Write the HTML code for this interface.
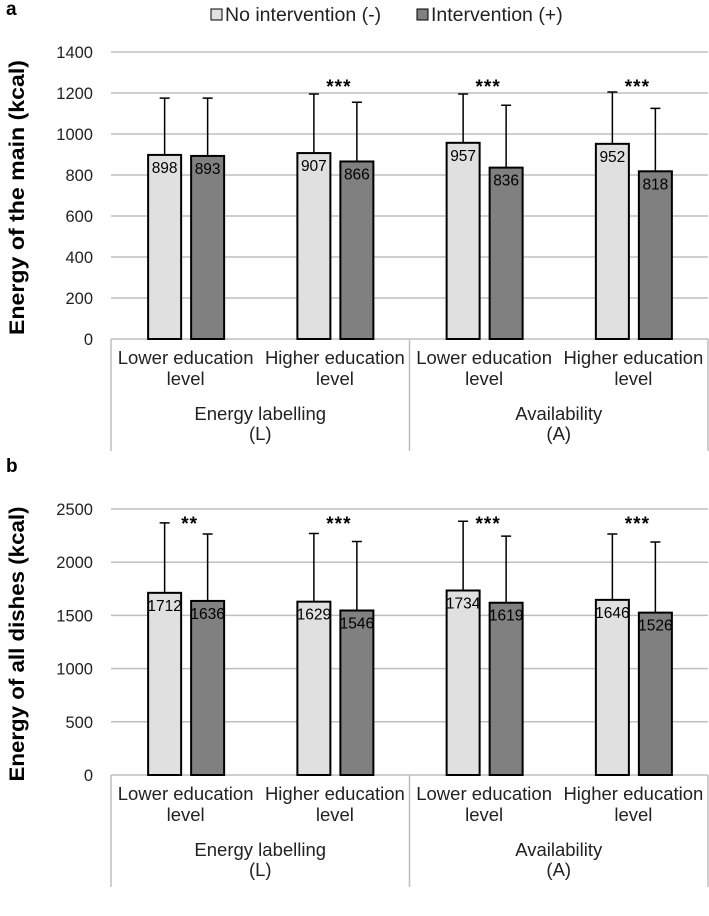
<!DOCTYPE html>
<html><head><meta charset="utf-8"><style>
body{margin:0;background:#fff}
svg{display:block;font-family:"Liberation Sans",Arial,sans-serif}
</style></head><body>
<svg id="c" width="709" height="916" viewBox="0 0 709 916" xmlns="http://www.w3.org/2000/svg"></svg>
<script>
const subCats = ["Lower education", "Higher education", "Lower education", "Higher education"];
const groups = ["Energy labelling", "Availability"];
const groupCodes = ["(L)", "(A)"];
const aNo = [898, 907, 957, 952];
const aInt = [893, 866, 836, 818];
const aNoErr = [1175, 1195, 1195, 1205];
const aIntErr = [1175, 1155, 1140, 1125];
const aStars = ["", "***", "***", "***"];
const aTicks = [0, 200, 400, 600, 800, 1000, 1200, 1400];
const bNo = [1712, 1629, 1734, 1646];
const bInt = [1636, 1546, 1619, 1526];
const bNoErr = [2370, 2270, 2385, 2265];
const bIntErr = [2265, 2195, 2245, 2190];
const bStars = ["**", "***", "***", "***"];
const bTicks = [0, 500, 1000, 1500, 2000, 2500];

const svg = document.getElementById('c');
const NS = "http://www.w3.org/2000/svg";
function mk(tag, attrs, parent, txt) {
  const e = document.createElementNS(NS, tag);
  for (const k in attrs) e.setAttribute(k, attrs[k]);
  if (txt !== undefined) e.textContent = txt;
  (parent || svg).appendChild(e);
  return e;
}
const X0 = 111, X1 = 708, CW = (X1 - X0) / 4;
function xc(i) { return X0 + CW * (i + 0.5); }

function panel(p, letter, title, ticks, top, bottom, no, inn, noE, inE, stars, starY) {
  const g = mk('g', {});
  
  
  const max = ticks[ticks.length - 1];
  const y = v => bottom - (v / max) * (bottom - top);
  let t = mk('text', {x: 6, y: top - 37, 'font-size': 19, 'font-weight': 'bold'}, g, letter);
  
  
  ticks.forEach(v => {
    if (v > 0) {
      const l = mk('line', {x1: X0, x2: X1, y1: y(v), y2: y(v), stroke: '#bfbfbf', 'stroke-width': 1.5}, g);
      
      
    }
    const tt = mk('text', {x: 93, y: y(v) + 6, 'font-size': 16.5, 'text-anchor': 'end', fill: '#222'}, g, v);
    
    
  });
  const yt = mk('text', {transform: `translate(24,${(top + bottom) / 2 + 2}) rotate(-90)`, 'font-size': 21, 'font-weight': 'bold', 'text-anchor': 'middle', textLength: 275, lengthAdjust: 'spacingAndGlyphs'}, g, title);
  
  
  const boxB = bottom + 112;
  const ax = mk('line', {x1: X0, x2: X1, y1: bottom, y2: bottom, stroke: '#bfbfbf', 'stroke-width': 1.5}, g);
  
  
  [0, 2, 4].forEach(i => {
    const l = mk('line', {x1: X0 + CW * i, x2: X0 + CW * i, y1: bottom, y2: boxB, stroke: '#bfbfbf', 'stroke-width': 1.5}, g);
    
    
  });
  subCats.forEach((s, i) => {
    const a = mk('text', {x: xc(i), y: bottom + 25, 'font-size': 18.5, 'text-anchor': 'middle', fill: '#222'}, g, s);
    
    
    const b = mk('text', {x: xc(i), y: bottom + 46, 'font-size': 18.5, 'text-anchor': 'middle', fill: '#222'}, g, 'level');
    
    
  });
  groups.forEach((s, i) => {
    const cx = X0 + CW * (2 * i + 1);
    const a = mk('text', {x: cx, y: bottom + 81, 'font-size': 18.5, 'text-anchor': 'middle', fill: '#222'}, g, s);
    
    
    const b = mk('text', {x: cx, y: bottom + 101, 'font-size': 18.5, 'text-anchor': 'middle', fill: '#222'}, g, groupCodes[i]);
    
    
  });
  const BW = 33;
  function bar(i, val, err, off, fill, name) {
    const cx = xc(i) + off;
    const e = mk('path', {d: `M${cx} ${y(val)}V${y(err)}M${cx - 5} ${y(err)}H${cx + 5}`, stroke: '#000', 'stroke-width': 1.5, fill: 'none'}, g);
    
    
    const r = mk('rect', {x: cx - BW / 2, y: y(val), width: BW, height: bottom - y(val), fill: fill, stroke: '#000', 'stroke-width': 2}, g);
    
    
    const t = mk('text', {x: cx, y: y(val) + 18, 'font-size': 15.5, 'text-anchor': 'middle', fill: '#000'}, g, val);
    
    
  }
  for (let i = 0; i < 4; i++) {
    bar(i, no[i], noE[i], -21, '#e0e0e0', 'no-intervention');
    bar(i, inn[i], inE[i], 22, '#808080', 'intervention');
    if (stars[i]) {
      const s = mk('text', {x: xc(i) + 4, y: starY, 'font-size': 19, 'font-weight': 'bold', 'text-anchor': 'middle', 'letter-spacing': 1}, g, stars[i]);
      
      
    }
  }
}
const lg = mk('g', {});


const l1 = mk('rect', {x: 211, y: 9, width: 11, height: 11, fill: '#e0e0e0', stroke: '#000', 'stroke-width': 1}, lg);


const lt1 = mk('text', {x: 225, y: 21, 'font-size': 19.5, fill: '#222'}, lg, 'No intervention (-)');


const l2 = mk('rect', {x: 417, y: 9, width: 11, height: 11, fill: '#808080', stroke: '#000', 'stroke-width': 1}, lg);


const lt2 = mk('text', {x: 431, y: 21, 'font-size': 19.5, fill: '#222'}, lg, 'Intervention (+)');



panel('a', 'a', 'Energy of the main (kcal)', aTicks, 52, 339, aNo, aInt, aNoErr, aIntErr, aStars, 93);
panel('b', 'b', 'Energy of all dishes (kcal)', bTicks, 509, 775, bNo, bInt, bNoErr, bIntErr, bStars, 530);
</script>
</body></html>
